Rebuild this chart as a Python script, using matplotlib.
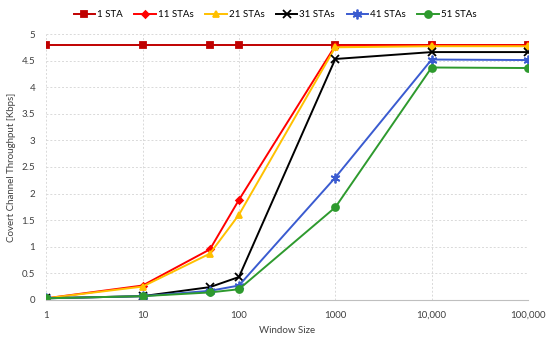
import matplotlib
matplotlib.use("Agg")
import matplotlib.pyplot as plt
from matplotlib.ticker import FixedLocator, FixedFormatter

plt.rcParams['font.family'] = ['Lato', 'DejaVu Sans']

window = [1, 10, 50, 100, 1000, 10000, 100000]
sta1 = [4.80, 4.80, 4.80, 4.80, 4.80, 4.80, 4.80]
sta11 = [0.03, 0.27, 0.95, 1.88, 4.78, 4.79, 4.79]
sta21 = [0.03, 0.25, 0.87, 1.60, 4.75, 4.77, 4.77]
sta31 = [0.03, 0.07, 0.24, 0.43, 4.53, 4.66, 4.66]
sta41 = [0.03, 0.07, 0.17, 0.27, 2.30, 4.52, 4.51]
sta51 = [0.03, 0.07, 0.14, 0.20, 1.74, 4.37, 4.36]

x_ticks = [1, 10, 100, 1000, 10000, 100000]
x_labels = ['1', '10', '100', '1000', '10,000', '100,000']

fig = plt.figure(figsize=(5.5, 3.4), dpi=100)
ax = fig.add_axes([0.084, 0.118, 0.876, 0.782])

series = [
    (sta1, '1 STA', '#C00000', 's', 5),
    (sta11, '11 STAs', '#FF0000', 'D', 3.5),
    (sta21, '21 STAs', '#FFC000', '^', 5),
    (sta31, '31 STAs', '#000000', 'x', 6),
    (sta41, '41 STAs', '#3A5BD0', (6, 2, 0), 7),
    (sta51, '51 STAs', '#2E9A2E', 'o', 5),
]
for vals, lab, col, mk, ms in series:
    ax.plot(window, vals, color=col, marker=mk, markersize=ms, linewidth=1.4,
            label=lab, markeredgewidth=1.3)

ax.set_xscale('log')
ax.set_xlim(1, 100000)
ax.set_ylim(0, 5)
ax.xaxis.set_major_locator(FixedLocator(x_ticks))
ax.xaxis.set_major_formatter(FixedFormatter(x_labels))
ax.xaxis.set_minor_locator(FixedLocator([]))
ax.set_yticks([0, 0.5, 1, 1.5, 2, 2.5, 3, 3.5, 4, 4.5, 5])
ax.set_yticklabels(['0', '0.5', '1', '1.5', '2', '2.5', '3', '3.5', '4', '4.5', '5'])
ax.tick_params(labelsize=7, length=0, colors='#404040', pad=8)
ax.grid(True, color='#D9D9D9', linestyle=(0, (2, 2)), linewidth=0.7)
for s in ['top', 'right', 'left']:
    ax.spines[s].set_visible(False)
ax.spines['bottom'].set_color('#BFBFBF')

ax.set_xlabel('Window Size', fontsize=7, color='#404040', labelpad=4)
ax.set_ylabel('Covert Channel Throughput [Kbps]', fontsize=7, color='#404040')

fig.legend(loc='upper center', bbox_to_anchor=(0.5, 0.995), ncol=6, fontsize=7,
           frameon=False, handlelength=2.2, columnspacing=1.2, handletextpad=0.2)

fig.savefig('out.png', dpi=100)
